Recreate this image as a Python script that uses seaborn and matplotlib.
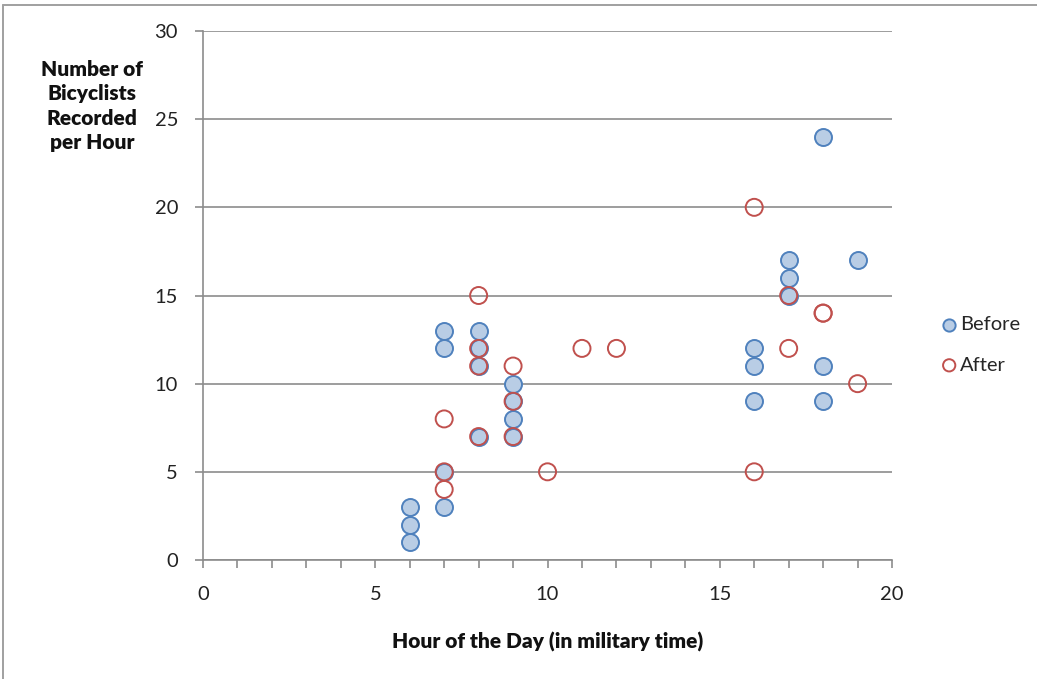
import pandas as pd
import seaborn as sns
import matplotlib.pyplot as plt
from matplotlib.lines import Line2D

# Data
before_hour = [6, 6, 6, 7, 7, 7, 7, 8, 8, 8, 8, 9, 9, 9, 9, 16, 16, 16, 17, 17, 17, 18, 18, 18, 19]
before_count = [1, 2, 3, 3, 5, 12, 13, 13, 12, 11, 7, 10, 9, 8, 7, 12, 11, 9, 17, 16, 15, 24, 11, 9, 17]

after_hour = [7, 7, 7, 8, 8, 8, 8, 9, 9, 9, 10, 11, 12, 16, 16, 17, 17, 18, 18, 19]
after_count = [8, 5, 4, 15, 12, 11, 7, 11, 9, 7, 5, 12, 12, 20, 5, 15, 12, 14, 14, 10]

x_ticks = [0, 5, 10, 15, 20]
y_ticks = [0, 5, 10, 15, 20, 25, 30]


def main():
    sns.set_style("white")
    plt.rcParams['font.family'] = ['Lato', 'DejaVu Sans']

    before = pd.DataFrame({'hour': before_hour, 'count': before_count})
    after = pd.DataFrame({'hour': after_hour, 'count': after_count})

    fig = plt.figure(figsize=(10.37, 6.79), dpi=100)
    ax = fig.add_axes([0.1958, 0.1753, 0.8602 - 0.1958, 0.9543 - 0.1753])

    sns.scatterplot(data=before, x='hour', y='count', ax=ax, s=150,
                    color='#b9cde5', edgecolor='#4f81bd', linewidth=1.4,
                    label='Before', zorder=3)
    sns.scatterplot(data=after, x='hour', y='count', ax=ax, s=150,
                    facecolor='none', edgecolor='#c0504d', linewidth=1.4,
                    label='After', zorder=4)

    ax.set_xlim(0, 20)
    ax.set_ylim(0, 30)
    ax.set_xticks(x_ticks)
    ax.set_xticks(range(0, 21), minor=True)
    ax.set_yticks(y_ticks)
    ax.yaxis.grid(True, color='#8c8c8c', linewidth=1.2)
    ax.set_axisbelow(True)

    for side in ['top', 'right']:
        ax.spines[side].set_visible(False)
    for side in ['left', 'bottom']:
        ax.spines[side].set_color('#8c8c8c')
        ax.spines[side].set_linewidth(1.2)

    ax.tick_params(axis='both', which='both', direction='out', color='#8c8c8c',
                   width=1.2, length=6, labelsize=14.5, labelcolor='#222222')
    ax.tick_params(axis='x', which='both', bottom=True, pad=13)
    ax.tick_params(axis='y', which='both', left=True, pad=12)

    ax.set_xlabel('')
    ax.set_ylabel('')
    fig.text(0.5285, 0.0545, 'Hour of the Day (in military time)', ha='center', va='center',
             fontsize=15, fontweight='heavy', color='#111111')
    fig.text(0.0885, 0.844, 'Number of\nBicyclists\nRecorded\nper Hour', ha='center', va='center',
             fontsize=15, fontweight='heavy', color='#111111', linespacing=1.33)

    ax.legend(loc='center left', bbox_to_anchor=(0.9095, 0.492),
              bbox_transform=fig.transFigure, frameon=False,
              fontsize=14.5, handlelength=0.6, handletextpad=0.25,
              labelspacing=1.15, markerscale=0.72, borderaxespad=0, borderpad=0)

    # light chart border, like the source's outer frame
    fig.add_artist(Line2D([0.003, 0.003], [0.0, 0.993], transform=fig.transFigure,
                          color='#a0a0a0', linewidth=1.4))
    fig.add_artist(Line2D([0.003, 1.0], [0.993, 0.993], transform=fig.transFigure,
                          color='#a0a0a0', linewidth=1.4))

    plt.savefig('out.png', dpi=100)
    plt.close()


if __name__ == "__main__":
    main()
